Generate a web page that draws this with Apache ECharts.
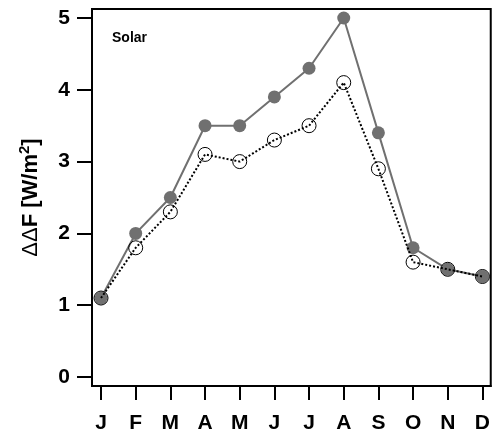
<!DOCTYPE html>
<html>
<head>
<meta charset="utf-8">
<script src="https://cdn.jsdelivr.net/npm/echarts@6/dist/echarts.min.js"></script>
<style>
  html, body { margin: 0; padding: 0; background: #fff; }
  #chart { width: 493px; height: 436px; }
</style>
</head>
<body>
<div id="chart"></div>
<script>
// Monthly solar forcing difference, two estimates
const months = ['J', 'F', 'M', 'A', 'M', 'J', 'J', 'A', 'S', 'O', 'N', 'D'];
const solarFilled = [1.1, 2.0, 2.5, 3.5, 3.5, 3.9, 4.3, 5.0, 3.4, 1.8, 1.5, 1.4];
const solarOpen = [1.1, 1.8, 2.3, 3.1, 3.0, 3.3, 3.5, 4.1, 2.9, 1.6, 1.5, 1.4];
const yTicks = [0, 1, 2, 3, 4, 5];

const FONT = '"Liberation Sans", Arial, Helvetica, sans-serif';
const monthIdx = months.map((_, i) => i);
const pairs = vals => vals.map((v, i) => [i, v]);

const chart = echarts.init(document.getElementById('chart'), null, { renderer: 'canvas' });
chart.setOption({
  animation: false,
  backgroundColor: '#ffffff',
  grid: {
    left: 92, right: 2, top: 9, bottom: 50,
    show: true, borderColor: '#000', borderWidth: 2, backgroundColor: 'transparent'
  },
  title: {
    text: 'Solar',
    left: 112, top: 31, padding: 0,
    textStyle: { fontFamily: FONT, fontWeight: 'bold', fontSize: 14, color: '#000' }
  },
  xAxis: {
    type: 'value',
    min: -0.26, max: 11.24,
    splitLine: { show: false },
    axisLine: { show: true, onZero: false, lineStyle: { color: '#000', width: 2 } },
    axisTick: { show: true, customValues: monthIdx, length: 14, lineStyle: { color: '#000', width: 2 } },
    axisLabel: {
      customValues: monthIdx,
      formatter: v => months[Math.round(v)],
      margin: 27,
      fontFamily: FONT, fontWeight: 'bold', fontSize: 21, color: '#000'
    }
  },
  yAxis: {
    type: 'value',
    min: -0.125, max: 5.125,
    splitLine: { show: false },
    axisLine: { show: true, onZero: false, lineStyle: { color: '#000', width: 2 } },
    axisTick: { show: true, customValues: yTicks, length: 15, lineStyle: { color: '#000', width: 2 } },
    axisLabel: {
      customValues: yTicks,
      margin: 22,
      fontFamily: FONT, fontWeight: 'bold', fontSize: 21, color: '#000'
    },
    name: '{d|ΔΔ}{t|F [W/m}{s|2}{t|]}',
    nameLocation: 'middle',
    nameRotate: 90,
    nameGap: 48,
    nameTextStyle: {
      rich: {
        d: { fontFamily: FONT, fontWeight: 'normal', fontSize: 22, color: '#000' },
        t: { fontFamily: FONT, fontWeight: 'bold', fontSize: 22, color: '#000' },
        s: { fontFamily: FONT, fontWeight: 'bold', fontSize: 15, color: '#000', verticalAlign: 'top', padding: [0, 0, 12, 0] }
      }
    }
  },
  series: [
    {
      type: 'line',
      data: pairs(solarFilled),
      symbol: 'circle',
      symbolSize: 13,
      z: 2,
      lineStyle: { color: '#707070', width: 2 },
      itemStyle: { color: '#707070', borderWidth: 0 }
    },
    {
      type: 'line',
      data: pairs(solarOpen),
      symbol: 'circle',
      symbolSize: 14,
      z: 3,
      lineStyle: { color: '#000', width: 2, type: [2, 2] },
      itemStyle: { color: 'rgba(255,255,255,0)', borderColor: '#000', borderWidth: 1 }
    }
  ]
});
</script>
</body>
</html>
